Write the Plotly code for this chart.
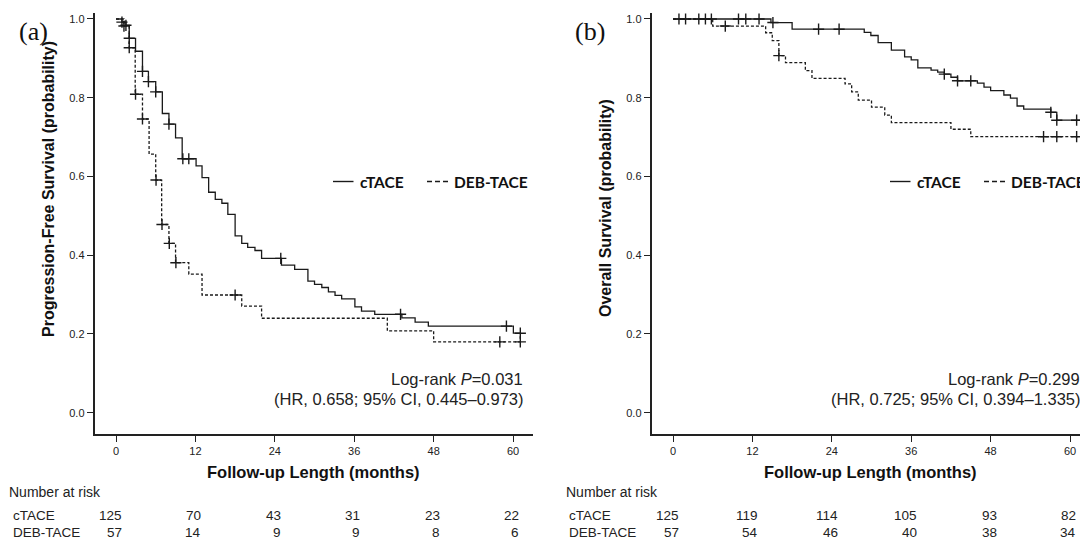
import plotly.graph_objects as go

# ---------------- data ----------------
# Panel (a): Progression-free survival
pfs_ctace_t = [0, 0.9, 1.5, 2.0, 2.95, 4.0, 4.9, 6.0, 7.0, 8.0, 9.0, 10.0, 12.1, 13.0, 14.0, 15.0, 16.0, 16.9,
               18.0, 19.0, 19.9, 21.0, 22.0, 25.0, 27.0, 29.0, 30.0, 31.1, 32.1, 33.1, 34.1, 36.1, 37.1, 39.1,
               43.2, 45.2, 47.2, 60.05, 61.1]
pfs_ctace_s = [1.0, 0.992, 0.984, 0.951, 0.918, 0.867, 0.841, 0.815, 0.760, 0.733, 0.698, 0.645, 0.627, 0.597,
               0.560, 0.542, 0.532, 0.504, 0.449, 0.430, 0.420, 0.412, 0.392, 0.375, 0.364, 0.334, 0.326, 0.318,
               0.307, 0.298, 0.289, 0.269, 0.258, 0.250, 0.241, 0.230, 0.220, 0.202, 0.202]
pfs_ctace_cens = [0.9, 1.5, 2.0, 4.0, 4.9, 6.0, 8.0, 10.1, 11.0, 24.9, 43.0, 59.0, 61.1]

pfs_deb_t = [0, 1.2, 2.0, 2.9, 4.0, 5.0, 6.0, 6.9, 8.0, 9.0, 11.0, 13.0, 19.0, 22.0, 41.0, 48.0, 61.1]
pfs_deb_s = [1.0, 0.982, 0.927, 0.809, 0.746, 0.657, 0.591, 0.478, 0.430, 0.381, 0.352, 0.299, 0.271, 0.240,
             0.208, 0.180, 0.180]
pfs_deb_cens = [1.2, 2.0, 2.95, 4.0, 6.05, 6.95, 8.05, 9.05, 18.0, 58.0, 61.1]

# Panel (b): Overall survival
os_ctace_t = [0, 14.8, 18.0, 28.9, 29.9, 31.0, 33.0, 35.0, 36.0, 37.0, 39.0, 40.0, 41.0, 42.0, 43.0, 46.0,
              47.0, 48.0, 50.0, 51.0, 52.0, 53.0, 57.1, 58.0, 61.8]
os_ctace_s = [1.0, 0.991, 0.974, 0.966, 0.958, 0.940, 0.921, 0.904, 0.896, 0.876, 0.870, 0.865, 0.860, 0.852,
              0.843, 0.837, 0.827, 0.818, 0.807, 0.799, 0.779, 0.771, 0.763, 0.743, 0.743]
os_ctace_cens = [0.9, 1.9, 3.9, 4.9, 5.8, 9.9, 11.0, 13.0, 15.1, 22.0, 25.1, 41.0, 43.0, 45.0, 57.1, 58.0, 61.0]

os_deb_t = [0, 6.0, 14.0, 15.0, 16.0, 17.0, 20.0, 21.0, 26.0, 27.0, 28.0, 30.0, 32.0, 33.0, 42.0, 45.0, 61.8]
os_deb_s = [1.0, 0.982, 0.965, 0.945, 0.907, 0.889, 0.869, 0.849, 0.835, 0.815, 0.794, 0.776, 0.756, 0.737,
            0.720, 0.701, 0.701]
os_deb_cens = [7.9, 16.0, 56.0, 58.0, 61.0]

x_ticks = [0, 12, 24, 36, 48, 60]
y_ticks = [0.0, 0.2, 0.4, 0.6, 0.8, 1.0]

risk_ctace_a = [125, 70, 43, 31, 23, 22]
risk_deb_a = [57, 14, 9, 9, 8, 6]
risk_ctace_b = [125, 119, 114, 105, 93, 82]
risk_deb_b = [57, 54, 46, 40, 38, 34]

groups = ["cTACE", "DEB-TACE"]
y_titles = ["Progression-Free Survival (probability)", "Overall Survival (probability)"]
x_title = "Follow-up Length (months)"
panel_labels = ["(a)", "(b)"]
stats_line1 = ["Log-rank <i>P</i>=0.031", "Log-rank <i>P</i>=0.299"]
stats_line2 = ["(HR, 0.658; 95% CI, 0.445–0.973)", "(HR, 0.725; 95% CI, 0.394–1.335)"]

# ---------------- helpers ----------------
W, H = 1080, 541
SHIFT = 557  # horizontal offset between panels (px)


def px(x):
    return x / W


def py(y):
    return 1 - y / H


def s_at(times, surv, t):
    val = surv[0]
    for ti, si in zip(times, surv):
        if ti <= t + 1e-9:
            val = si
    return val


SANS = "Liberation Sans, Arial, sans-serif"
LEG = "Lato, Liberation Sans, sans-serif"
INK = "#1a1a1a"

fig = go.Figure()

panels = [
    ("x", "y", pfs_ctace_t, pfs_ctace_s, pfs_ctace_cens, pfs_deb_t, pfs_deb_s, pfs_deb_cens),
    ("x2", "y2", os_ctace_t, os_ctace_s, os_ctace_cens, os_deb_t, os_deb_s, os_deb_cens),
]

for xa, ya, ct, cs, cc, dt, ds, dc in panels:
    fig.add_trace(go.Scatter(x=ct, y=cs, mode="lines", line=dict(shape="hv", color=INK, width=1.3),
                             xaxis=xa, yaxis=ya, name=groups[0], hoverinfo="skip"))
    fig.add_trace(go.Scatter(x=dt, y=ds, mode="lines",
                             line=dict(shape="hv", color=INK, width=1.3, dash="3px,2px"),
                             xaxis=xa, yaxis=ya, name=groups[1], hoverinfo="skip"))
    fig.add_trace(go.Scatter(x=cc, y=[s_at(ct, cs, t) for t in cc], mode="markers",
                             marker=dict(symbol="cross-thin", size=8, line=dict(width=1.4, color=INK)),
                             xaxis=xa, yaxis=ya, hoverinfo="skip"))
    fig.add_trace(go.Scatter(x=dc, y=[s_at(dt, ds, t) for t in dc], mode="markers",
                             marker=dict(symbol="cross-thin", size=8, line=dict(width=1.4, color=INK)),
                             xaxis=xa, yaxis=ya, hoverinfo="skip"))

ydom = [py(434), py(13)]
axis_common = dict(showline=True, linecolor="#222", linewidth=1.6, ticks="outside", ticklen=6,
                   tickwidth=1.2, tickcolor="#222", showgrid=False, zeroline=False,
                   tickfont=dict(family=SANS, size=11, color="#222"))

fig.update_layout(
    width=W, height=H,
    margin=dict(l=0, r=0, t=0, b=0),
    paper_bgcolor="white", plot_bgcolor="white",
    showlegend=False,
    xaxis=dict(domain=[px(94.5), px(532.5)], range=[-3.25, 62.94], anchor="y",
               tickvals=x_ticks, **axis_common),
    yaxis=dict(domain=ydom, range=[-0.054, 1.0152], anchor="x",
               tickvals=y_ticks, tickformat=".1f", **axis_common),
    xaxis2=dict(domain=[px(651.5), 1.0], range=[-3.25, -3.25 + (W - 651.5) / 6.617], anchor="y2",
                tickvals=x_ticks, **axis_common),
    yaxis2=dict(domain=ydom, range=[-0.054, 1.0152], anchor="x2",
                tickvals=y_ticks, tickformat=".1f", **axis_common),
)

annotations = []
shapes = []
risk_sets = [(risk_ctace_a, risk_deb_a, "x"), (risk_ctace_b, risk_deb_b, "x2")]
ytitle_center = [189, 208]

for i in range(2):
    off = SHIFT * i
    # panel label
    annotations.append(dict(text=panel_labels[i], x=px(33 + off), y=py(32), xref="paper", yref="paper",
                            showarrow=False, xanchor="center", yanchor="middle",
                            font=dict(family="Liberation Serif, Times New Roman, serif", size=26, color="#111")))
    # y title
    annotations.append(dict(text=y_titles[i], x=px(48 + off), y=py(ytitle_center[i]), xref="paper",
                            yref="paper", showarrow=False, textangle=-90, xanchor="center", yanchor="middle",
                            font=dict(family=SANS, size=16, color="#111", weight="bold")))
    # x title
    annotations.append(dict(text=x_title, x=px(313.5 + off), y=py(472), xref="paper", yref="paper",
                            showarrow=False, xanchor="center", yanchor="middle",
                            font=dict(family=SANS, size=16.5, color="#111", weight="bold")))
    # legend
    shapes.append(dict(type="line", xref="paper", yref="paper", x0=px(333 + off), x1=px(353.5 + off),
                       y0=py(181.5), y1=py(181.5), line=dict(color=INK, width=1.4)))
    shapes.append(dict(type="line", xref="paper", yref="paper", x0=px(427 + off), x1=px(448.5 + off),
                       y0=py(181.5), y1=py(181.5), line=dict(color=INK, width=1.4, dash="5px,3px")))
    annotations.append(dict(text=groups[0], x=px(357.5 + off), y=py(181.5), xref="paper", yref="paper",
                            showarrow=False, xanchor="left", yanchor="middle",
                            font=dict(family=LEG, size=15.5, color="#111", weight="bold")))
    annotations.append(dict(text=groups[1], x=px(451.5 + off), y=py(181.5), xref="paper", yref="paper",
                            showarrow=False, xanchor="left", yanchor="middle",
                            font=dict(family=LEG, size=15.5, color="#111", weight="bold")))
    # statistics
    annotations.append(dict(text=stats_line1[i], x=px(525 + off), y=py(379), xref="paper", yref="paper",
                            showarrow=False, xanchor="right", yanchor="middle",
                            font=dict(family=SANS, size=16.5, color="#222")))
    annotations.append(dict(text=stats_line2[i], x=px(525 + off), y=py(398.5), xref="paper", yref="paper",
                            showarrow=False, xanchor="right", yanchor="middle",
                            font=dict(family=SANS, size=16.5, color="#222")))
    # number at risk table
    annotations.append(dict(text="Number at risk", x=px(7 + off), y=py(492), xref="paper", yref="paper",
                            showarrow=False, xanchor="left", yanchor="middle",
                            font=dict(family=SANS, size=14, color="#222")))
    rc, rd, xr = risk_sets[i]
    for row_y, label, vals in [(515, groups[0], rc), (532, groups[1], rd)]:
        annotations.append(dict(text=label, x=px(10.5 + off), y=py(row_y), xref="paper", yref="paper",
                                showarrow=False, xanchor="left", yanchor="middle",
                                font=dict(family=SANS, size=13.5, color="#222")))
        for tv, v in zip(x_ticks, vals):
            annotations.append(dict(text=str(v), x=tv, y=py(row_y), xref=xr, yref="paper",
                                    showarrow=False, xanchor="right", yanchor="middle", xshift=8,
                                    font=dict(family=SANS, size=13.5, color="#222")))

fig.update_layout(annotations=annotations, shapes=shapes)

fig.write_html("out.html", config={"displayModeBar": False},
               post_script="document.body.style.margin='0';document.body.style.overflow='hidden';")
